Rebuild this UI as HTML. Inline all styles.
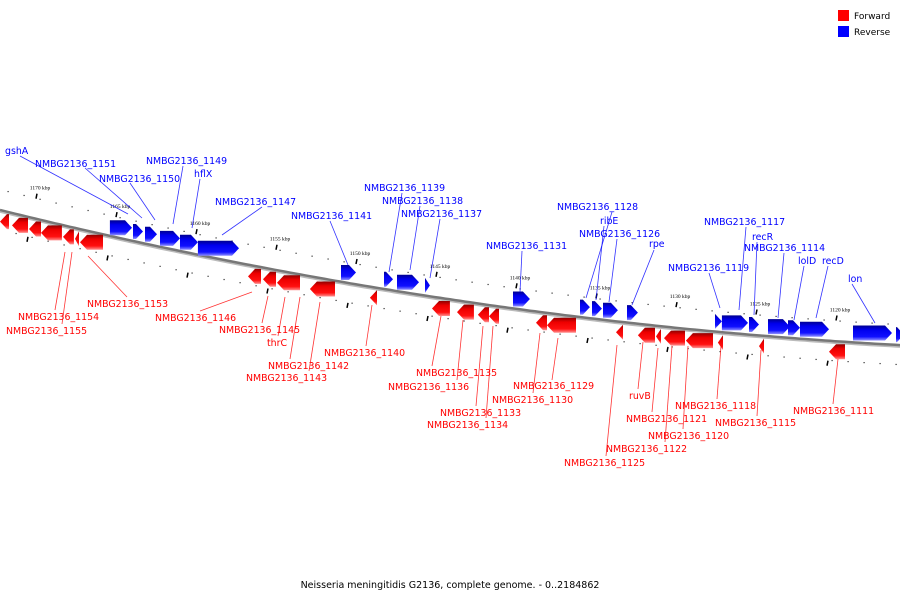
<!DOCTYPE html>
<html><head><meta charset="utf-8"><style>
html,body{margin:0;padding:0;background:#fff;width:900px;height:600px;overflow:hidden}
svg{font-family:"DejaVu Sans","Liberation Sans",sans-serif}
</style></head><body>
<svg id="chart" width="900" height="600" viewBox="0 0 900 600" xmlns="http://www.w3.org/2000/svg">
<defs>
<linearGradient id="gb" x1="0" y1="0" x2="0" y2="1"><stop offset="0" stop-color="#000090"/><stop offset="0.3" stop-color="#0000ee"/><stop offset="0.75" stop-color="#1010ff"/><stop offset="1" stop-color="#9090ff"/></linearGradient>
<linearGradient id="gr" x1="0" y1="0" x2="0" y2="1"><stop offset="0" stop-color="#900000"/><stop offset="0.3" stop-color="#ee0000"/><stop offset="0.75" stop-color="#ff1010"/><stop offset="1" stop-color="#ff9090"/></linearGradient>
</defs>
<g id="ticks"></g>
<path id="axis2" fill="none" stroke="#bbb" stroke-width="2"/>
<path id="axis" fill="none" stroke="#777" stroke-width="2.5"/>
<g id="genes"></g>
<g id="labels" font-size="9.4"></g>
<g font-size="9">
<rect x="838" y="10" width="11" height="11" fill="#f00"/>
<text x="854" y="19" fill="#000">Forward</text>
<rect x="838" y="26" width="11" height="11" fill="#00f"/>
<text x="854" y="35" fill="#000">Reverse</text>
</g>
<text x="450" y="588" text-anchor="middle" font-size="9.5" fill="#000">Neisseria meningitidis G2136, complete genome. - 0..2184862</text>
</svg>
<script>
const geneStart=[1172.5,1171.75,1170.69,1169.94,1168.56,1167.81,1167.5,1157.0,1156.06,1155.19,1153.13,1149.38,1145.5,1143.94,1142.63,1141.94,1139.0,1138.31,1134.0,1132.63,1131.5,1131.0,1129.63,1127.63,1125.06,1120.69,
1165.63,1164.19,1163.44,1162.5,1161.25,1160.13,1151.19,1148.5,1147.69,1145.94,1140.44,1136.25,1135.5,1134.81,1133.31,1127.81,1127.38,1125.69,1124.5,1123.25,1122.5,1119.19,1116.5];
const geneEnd=[1171.94,1170.75,1169.94,1168.63,1167.88,1167.56,1166.06,1156.19,1155.25,1153.75,1151.56,1148.94,1144.38,1142.88,1141.94,1141.31,1138.31,1136.5,1133.56,1131.56,1131.19,1129.69,1127.94,1127.31,1124.75,1119.69,
1164.25,1163.56,1162.69,1161.25,1160.13,1157.56,1150.25,1147.94,1146.31,1145.63,1139.38,1135.63,1134.88,1133.88,1132.63,1127.38,1125.75,1125.06,1123.13,1122.5,1120.69,1116.75,1116.0];
const geneStrand=["F","F","F","F","F","F","F","F","F","F","F","F","F","F","F","F","F","F","F","F","F","F","F","F","F","F",
"R","R","R","R","R","R","R","R","R","R","R","R","R","R","R","R","R","R","R","R","R","R","R"];
const tickKbp=[1170,1165,1160,1155,1150,1145,1140,1135,1130,1125,1120];

const NS="http://www.w3.org/2000/svg";
function xOf(k){return 40+(1170-k)*16;}
function yOf(x){return 210+0.247*x-0.0001077*x*x;}
function mk(t,a,p){const e=document.createElementNS(NS,t);for(const k in a)e.setAttribute(k,a[k]);p.appendChild(e);return e;}

let d="",d2="";for(let x=0;x<=900;x+=5){d+=(x?"L":"M")+x+" "+yOf(x).toFixed(1);d2+=(x?"L":"M")+x+" "+(yOf(x)+1.8).toFixed(1);}
document.getElementById("axis").setAttribute("d",d);
document.getElementById("axis2").setAttribute("d",d2);

const tg=document.getElementById("ticks");
for(let k=1173;k>=1115;k--){
  const x=xOf(k);if(x<0||x>900)continue;
  const u=mk("rect",{x:x-0.5,y:yOf(x)-21,width:1.2,height:1.2,fill:"#333"},tg);
  
  
  const xl=x+8;
  const l=mk("rect",{x:xl-0.5,y:yOf(xl)+19,width:1.2,height:1.2,fill:"#333"},tg);
  
  
}
tickKbp.forEach(k=>{
  const x=xOf(k);
  const m=mk("line",{x1:x-3,y1:yOf(x)-26,x2:x-4,y2:yOf(x)-21,stroke:"#000","stroke-width":1.5},tg);
  
  
  const xl=x-12;
  const m2=mk("line",{x1:xl,y1:yOf(xl)+20,x2:xl-1,y2:yOf(xl)+25,stroke:"#000","stroke-width":1.5},tg);
  
  
  const t=mk("text",{x:x,y:yOf(x)-30,"font-size":"5.5","text-anchor":"middle",fill:"#000","font-family":"Liberation Serif, serif"},tg);
  t.textContent=k+" kbp";
  
  
});

const gg=document.getElementById("genes");
for(let i=0;i<geneStart.length;i++){
  const x1=xOf(geneStart[i]),x2=xOf(geneEnd[i]);
  const a=Math.min(x1,x2),b=Math.max(x1,x2),w=b-a,xm=(a+b)/2;
  const fwd=geneStrand[i]==="F";
  const h=15;const top=fwd?yOf(xm)+3:yOf(xm)-18;
  const tip=Math.min(7,w);
  let pts;
  if(fwd){pts=[[a,top+h/2],[a+tip,top],[b,top],[b,top+h],[a+tip,top+h]];}
  else{pts=[[a,top],[b-tip,top],[b,top+h/2],[b-tip,top+h],[a,top+h]];}
  const p=mk("polygon",{points:pts.map(q=>q[0].toFixed(1)+","+q[1].toFixed(1)).join(" "),fill:fwd?"url(#gr)":"url(#gb)"},gg);
  
  
}

const labs=[
["gshA",5,150,"b",20,156,128,214],["NMBG2136_1151",35,163,"b",85,168,142,218],["NMBG2136_1150",99,178,"b",130,183,155,220],
["NMBG2136_1149",146,160,"b",183,166,173,224],["hflX",194,173,"b",200,179,192,228],["NMBG2136_1147",215,201,"b",262,207,222,235],
["NMBG2136_1141",291,215,"b",330,221,348,265],["NMBG2136_1139",364,187,"b",402,193,389,272],["NMBG2136_1138",382,200,"b",420,206,410,270],
["NMBG2136_1137",401,213,"b",440,219,430,278],["NMBG2136_1131",486,245,"b",522,251,520,292],["NMBG2136_1128",557,206,"b",612,212,586,298],
["ribE",600,220,"b",604,226,596,300],["NMBG2136_1126",579,233,"b",617,239,609,302],["rpe",649,243,"b",654,250,632,305],
["NMBG2136_1119",668,267,"b",709,273,720,308],["NMBG2136_1117",704,221,"b",746,227,739,310],["recR",752,236,"b",757,242,754,315],
["NMBG2136_1114",744,247,"b",784,253,778,318],["lolD",798,260,"b",804,266,794,320],["recD",822,260,"b",828,266,816,318],
["lon",848,278,"b",852,284,875,323],
["NMBG2136_1153",87,303,"r",88,256,127,297],["NMBG2136_1154",18,316,"r",65,252,55,310],["NMBG2136_1155",6,330,"r",72,252,62,324],
["NMBG2136_1146",155,317,"r",252,292,200,311],["NMBG2136_1145",219,329,"r",268,296,262,323],["thrC",267,342,"r",285,297,278,336],
["NMBG2136_1142",268,365,"r",300,297,290,359],["NMBG2136_1143",246,377,"r",320,302,309,371],["NMBG2136_1140",324,352,"r",372,305,366,346],
["NMBG2136_1135",416,372,"r",441,316,432,366],["NMBG2136_1136",388,386,"r",463,320,457,380],["NMBG2136_1133",440,412,"r",483,326,476,406],
["NMBG2136_1134",427,424,"r",493,326,486,418],["NMBG2136_1130",492,399,"r",540,333,533,393],["NMBG2136_1129",513,385,"r",558,338,552,380],
["NMBG2136_1125",564,462,"r",617,345,606,456],["ruvB",629,395,"r",643,342,638,389],["NMBG2136_1121",626,418,"r",658,348,652,412],
["NMBG2136_1122",606,448,"r",672,346,665,442],["NMBG2136_1120",648,435,"r",688,346,683,429],["NMBG2136_1118",675,405,"r",721,346,717,399],
["NMBG2136_1115",715,422,"r",761,350,757,416],["NMBG2136_1111",793,410,"r",838,359,833,404]];
const lg=document.getElementById("labels");
labs.forEach(L=>{
  const c=L[3]==="b"?"#0000ff":"#ff0000";
  const ln=mk("line",{x1:L[4],y1:L[5],x2:L[6],y2:L[7],stroke:c,"stroke-width":0.8,opacity:0.8},lg);
  
  
  const t=mk("text",{x:L[1],y:L[2]+4,fill:c},lg);
  t.textContent=L[0];
  
  
});
</script>
</body></html>
